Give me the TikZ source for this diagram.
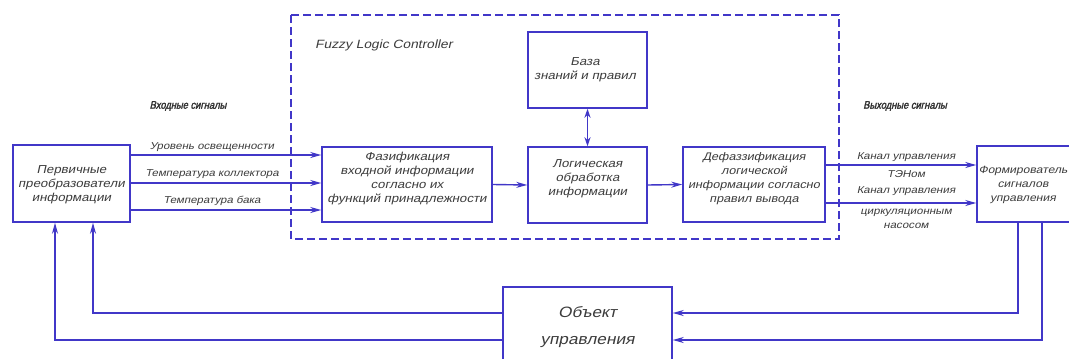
\documentclass[tikz,border=0pt]{standalone}
\usepackage{fontspec}
\setmainfont{Liberation Sans}
\newfontfamily\gost{Liberation Sans}[FakeStretch=1.15,FakeSlant=0.22]
\newfontfamily\gosth{Liberation Sans}[FakeStretch=0.85,FakeSlant=0.22,FakeBold=2]
\usetikzlibrary{arrows.meta}
\definecolor{lc}{RGB}{65,55,200}
\definecolor{tc}{RGB}{60,60,60}
\begin{document}
\begin{tikzpicture}[x=1pt,y=-1pt,
 box/.style={draw=lc, line width=1.5pt, fill=white, inner sep=0pt},
 txt/.style={font=\gost\fontsize{11.5}{14}\selectfont, text=tc, align=center, inner sep=0pt},
 lbl/.style={font=\gost\fontsize{10}{13}\selectfont, text=tc, align=center, inner sep=0pt},
 big/.style={font=\gost\fontsize{15}{27}\selectfont, text=tc, align=center, inner sep=0pt},
 head/.style={font=\gosth\fontsize{11}{12}\selectfont, text=tc!80!black, inner sep=0pt},
 arr/.style={draw=lc, line width=1.4pt, -{Stealth[length=11pt,width=6pt]}},
 ln/.style={draw=lc, line width=1.4pt},
]
\clip (0,0) rectangle (1069,359);
\fill[white] (0,0) rectangle (1069,359);
% dashed controller frame
\draw[lc, line width=1.5pt, dash pattern=on 8pt off 4pt] (291,15) rectangle (839,239);
\node[lbl, font=\gost\fontsize{12}{14}\selectfont, anchor=west] (flc) at (315,45) {Fuzzy Logic Controller};
% boxes
\node[box, minimum width=117pt, minimum height=77pt] (pri) at (71.5,183.5) {};
\node[txt] (pritxt) at (71.5,185) {Первичные\\преобразователи\\информации};
\node[box, minimum width=170pt, minimum height=75pt] (fuz) at (407,184.5) {};
\node[txt] (fuztxt) at (407,179) {Фазификация\\входной информации\\согласно их\\функций принадлежности};
\node[box, minimum width=119pt, minimum height=76pt] (log) at (587.5,185) {};
\node[txt] (logtxt) at (587.5,179) {Логическая\\обработка\\информации};
\node[box, minimum width=119pt, minimum height=76pt] (kb) at (587.5,70) {};
\node[txt] (kbtxt) at (585,70) {База\\знаний и правил};
\node[box, minimum width=142pt, minimum height=75pt] (def) at (754,184.5) {};
\node[txt, font=\gost\fontsize{11}{14}\selectfont] (deftxt) at (754,179) {Дефаззификация\\логической\\информации согласно\\правил вывода};
\node[box, minimum width=113pt, minimum height=76pt] (frm) at (1033.5,184) {};
\node[txt, font=\gost\fontsize{10.5}{14}\selectfont] (frmtxt) at (1023,185) {Формирователь\\сигналов\\управления};
\node[box, minimum width=169pt, minimum height=93pt] (obj) at (587.5,333.5) {};
\node[big] (objtxt) at (587.5,327) {Объект\\управления};
% coordinates
\coordinate (y1) at (0,155);
\coordinate (y2) at (0,183);
\coordinate (y3) at (0,210);
\coordinate (y4) at (0,165);
\coordinate (y5) at (0,203);
\coordinate (ya) at (0,313);
\coordinate (yb) at (0,340);
\coordinate (xa) at (93,0);
\coordinate (xb) at (55,0);
\coordinate (xc) at (1018,0);
\coordinate (xd) at (1042,0);
% input signals
\draw[arr] (pri.east |- y1) -- (fuz.west |- y1);
\draw[arr] (pri.east |- y2) -- (fuz.west |- y2);
\draw[arr] (pri.east |- y3) -- (fuz.west |- y3);
\node[lbl] (in1) at (212,147) {Уровень освещенности};
\node[lbl] (in2) at (212,174) {Температура коллектора};
\node[lbl] (in3) at (212,201) {Температура бака};
\node[head] (inh) at (188,106) {Входные сигналы};
% internal
\draw[arr] (fuz.east) -- (log.west);
\draw[arr] (log.east) -- (def.west);
\draw[ln, {Stealth[length=9pt,width=6pt]}-{Stealth[length=9pt,width=6pt]}] (kb.south) -- (log.north);
% outputs
\draw[arr] (def.east |- y4) -- (frm.west |- y4);
\draw[arr] (def.east |- y5) -- (frm.west |- y5);
\node[lbl] (out1) at (906,157) {Канал управления};
\node[lbl] (out1b) at (906,174) {ТЭНом};
\node[lbl] (out2) at (906,191) {Канал управления};
\node[lbl] (out2b) at (906,213) {циркуляционным};
\node[lbl] (out2c) at (906,226) {насосом};
\node[head] (outh) at (905,106) {Выходные сигналы};
% feedback
\draw[arr] (obj.west |- ya) -| (pri.south -| xa);
\draw[arr] (obj.west |- yb) -| (pri.south -| xb);
\draw[arr] (frm.south -| xc) |- (obj.east |- ya);
\draw[arr] (frm.south -| xd) |- (obj.east |- yb);
\end{tikzpicture}
\end{document}
